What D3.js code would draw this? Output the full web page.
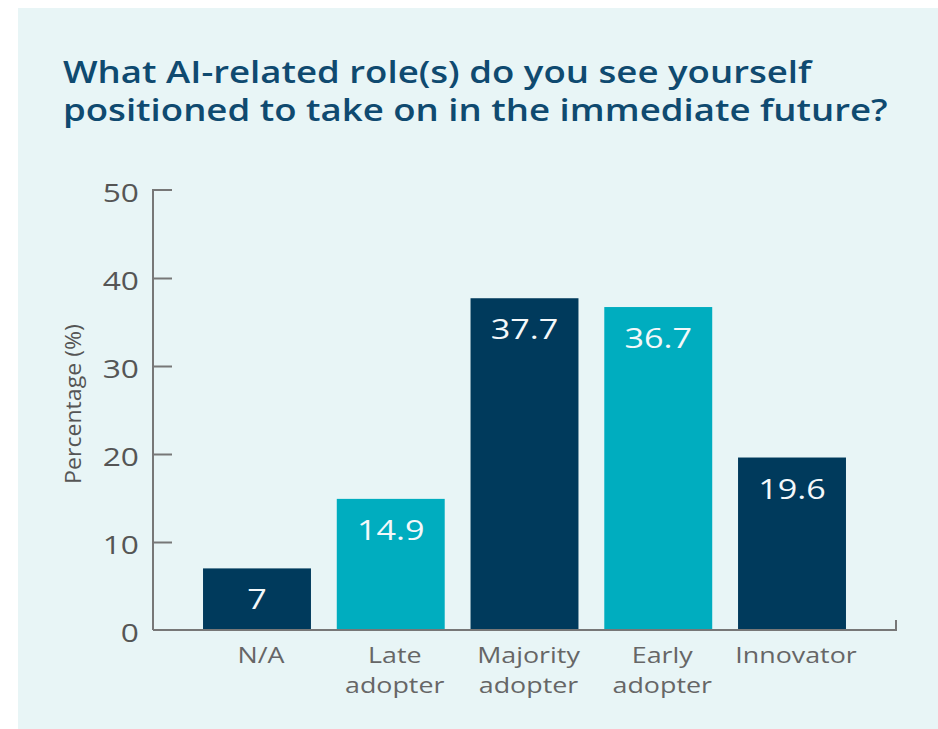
<!DOCTYPE html>
<html><head><meta charset="utf-8">
<script src="https://cdn.jsdelivr.net/npm/d3@7"></script>
<style>
html,body{margin:0;padding:0;background:#fff;}
svg{display:block;font-family:"Open Sans",sans-serif;}
</style></head>
<body>
<svg id="c" width="938" height="729"></svg>
<script>
const categories = [["N/A"],["Late","adopter"],["Majority","adopter"],["Early","adopter"],["Innovator"]];
const values = [7, 14.9, 37.7, 36.7, 19.6];
const barColors = ["#003a5c","#00adbf","#003a5c","#00adbf","#003a5c"];
const yTicks = [0,10,20,30,40,50];
const titleLines = ["What AI-related role(s) do you see yourself","positioned to take on in the immediate future?"];
const yLabel = "Percentage (%)";

const SX = 1.22; // horizontal stretch of the reference typography
const svg = d3.select("#c");
svg.append("rect").attr("x",18).attr("y",8).attr("width",920).attr("height",721).attr("fill","#e8f5f6");

svg.append("g").selectAll("text").data(titleLines).join("text")
  .attr("transform",(d,i)=>`translate(63,${83+i*38}) scale(${SX},1)`)
  .attr("font-size",30).attr("font-weight",600).attr("fill","#0f4a70")
  .text(d=>d);

const x0=153, x1=896, yTop=190, yBot=630;
const y = d3.scaleLinear().domain([0,50]).range([yBot,yTop]);
const x = d3.scaleBand().domain(d3.range(categories.length)).range([x0,x1]).paddingInner(0.193).paddingOuter(0.374);

// bars
svg.append("g").selectAll("rect").data(values).join("rect")
  .attr("x",(d,i)=>x(i)).attr("width",x.bandwidth())
  .attr("y",d=>y(d)).attr("height",d=>y(0)-y(d))
  .attr("fill",(d,i)=>barColors[i]);

svg.append("g").selectAll("text").data(values).join("text")
  .attr("transform",(d,i)=>`translate(${x(i)+x.bandwidth()/2},${y(d)+41}) scale(${SX},1)`)
  .attr("text-anchor","middle").attr("font-size",28).attr("fill","#f4f8fa")
  .text(d=>d);

// y axis
const yAxis = d3.axisRight(y).tickValues(yTicks).tickSize(19).tickFormat("");
const gy = svg.append("g").attr("transform",`translate(${x0},0)`).call(yAxis);
gy.select(".domain").attr("stroke","#777").attr("stroke-width",2).attr("d",`M19,${yTop}H0V${yBot}`);
gy.selectAll(".tick line").attr("stroke","#777").attr("stroke-width",2);
gy.selectAll(".tick").filter(d=>d===50||d===0).select("line").remove();

svg.append("g").selectAll("text").data(yTicks).join("text")
  .attr("transform",d=>`translate(139,${y(d)+12}) scale(${SX},1)`)
  .attr("text-anchor","end").attr("font-size",26).attr("fill","#555")
  .text(d=>d);

// x axis
const xAxis = d3.axisBottom(x).tickSize(0).tickFormat("");
const gx = svg.append("g").attr("transform",`translate(0,${yBot})`).call(xAxis);
gx.select(".domain").attr("stroke","#777").attr("stroke-width",2).attr("d",`M${x0},0H${x1}V-10`);

const xl = svg.append("g").selectAll("text").data(categories).join("text")
  .attr("transform",(d,i)=>`translate(${x(i)+x.bandwidth()/2+4},663) scale(${SX},1)`)
  .attr("text-anchor","middle").attr("font-size",22).attr("fill","#666");
xl.selectAll("tspan").data(d=>d).join("tspan")
  .attr("x",0).attr("dy",(d,i)=>i===0?0:30).text(d=>d);

svg.append("text").attr("transform","translate(81,404) rotate(-90) scale(1.05,1)")
  .attr("text-anchor","middle").attr("font-size",22).attr("fill","#555").text(yLabel);
</script>
</body></html>
